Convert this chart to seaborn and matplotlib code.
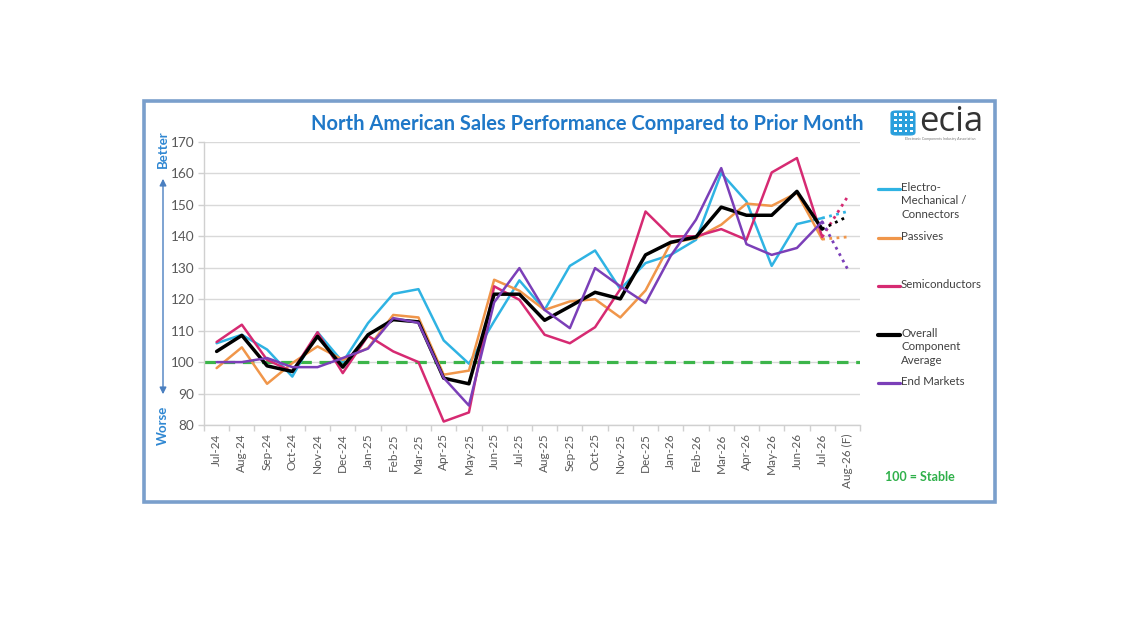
import numpy as np
import pandas as pd
import matplotlib
matplotlib.use("Agg")
import matplotlib.pyplot as plt
import seaborn as sns
from matplotlib.lines import Line2D
from matplotlib.patches import Rectangle, FancyBboxPatch, FancyArrowPatch

# ---------------- data ----------------
categories = ['Jul-24', 'Aug-24', 'Sep-24', 'Oct-24', 'Nov-24', 'Dec-24', 'Jan-25', 'Feb-25',
              'Mar-25', 'Apr-25', 'May-25', 'Jun-25', 'Jul-25', 'Aug-25', 'Sep-25', 'Oct-25',
              'Nov-25', 'Dec-25', 'Jan-26', 'Feb-26', 'Mar-26', 'Apr-26', 'May-26', 'Jun-26',
              'Jul-26', 'Aug-26 (F)']

electro = [106, 108.7, 104, 95.4, 109.5, 100, 112.4, 121.7, 123.2, 106.9, 99.5, 113,
           126, 116.6, 130.6, 135.5, 123.2, 131.5, 134.1, 138.9, 160.1, 151.1, 130.6, 143.9,
           145.8, 147.9]
passives = [98.1, 104.7, 93.1, 99.7, 105, 100.7, 104.5, 115, 114.2, 96, 97.3, 126.2,
            122.7, 116.6, 119.3, 120, 114.2, 122.8, 137.9, 139.4, 143.7, 150.4, 149.7, 153.8,
            139.1, 139.8]
semis = [106.4, 111.9, 100.7, 97, 109.5, 96.5, 108.4, 103.4, 100, 81.1, 84, 124.1,
         119.8, 108.7, 106, 111.1, 123.2, 147.9, 140, 140, 142.3, 138.9, 160.3, 164.9,
         139.8, 152.5]
overall = [103.4, 108.5, 98.8, 97, 108.2, 98.4, 108.7, 113.5, 112.8, 94.9, 93.1, 121.6,
           121.6, 113.3, 117.7, 122.2, 120.1, 134.1, 138.1, 139.8, 149.3, 146.7, 146.7, 154.3,
           142.3, 146.3]
end_markets = [100, 100, 101.3, 98.4, 98.4, 101.3, 104.3, 114, 112.5, 95, 86.2, 119,
               129.9, 116.6, 110.8, 129.9, 124.1, 118.8, 133.8, 145.3, 161.7, 137.5, 134.1, 136.3,
               144.7, 129.7]

series_names = ['Electro-\nMechanical /\nConnectors', 'Passives', 'Semiconductors',
                'Overall\nComponent\nAverage', 'End Markets']
series_values = [electro, passives, semis, overall, end_markets]
series_colors = ['#2fb3e3', '#f0964a', '#d62a72', '#000000', '#7b3fb8']
series_widths = [1.8, 1.8, 1.8, 2.5, 1.8]
y_ticks = [80, 90, 100, 110, 120, 130, 140, 150, 160, 170]
stable_level = 100

# ---------------- figure ----------------
sns.set_theme(style="white")
plt.rcParams['font.family'] = ['Lato', 'DejaVu Sans']

W, H = 1140, 641
fig = plt.figure(figsize=(W / 100, H / 100), dpi=100)
fig.patch.set_facecolor('white')

def fx(px):
    return px / W

def fy(py):
    return 1 - py / H

# outer frame
fig.add_artist(Rectangle((fx(144), fy(502)), fx(995) - fx(144), fy(101) - fy(502),
                         transform=fig.transFigure, fill=False, edgecolor='#7a9fcc',
                         linewidth=2.6, zorder=0))

ax = fig.add_axes([fx(204), fy(425), fx(860) - fx(204), fy(142) - fy(425)])
ax.set_facecolor('white')

n = len(categories)
xs = np.arange(n)
rows = []
for name, vals in zip(series_names, series_values):
    for i, (c, v) in enumerate(zip(categories, vals)):
        rows.append({'idx': i, 'cat': c, 'series': name, 'value': v})
df = pd.DataFrame(rows)

# green stable line
ax.axhline(stable_level, color='#3cb54a', linewidth=2.3, linestyle=(0, (3.6, 2.4)), zorder=2)

draw_order = [0, 1, 3, 2, 4]
for k in draw_order:
    name = series_names[k]
    sub = df[df['series'] == name]
    solid = sub[sub['idx'] <= n - 2]
    fc = sub[sub['idx'] >= n - 2]
    sns.lineplot(data=solid, x='idx', y='value', ax=ax, color=series_colors[k],
                 linewidth=series_widths[k], legend=False, zorder=3 + k, estimator=None,
                 sort=False)
    sns.lineplot(data=fc, x='idx', y='value', ax=ax, color=series_colors[k],
                 linewidth=2.0, linestyle=(0, (1, 1.6)), legend=False, zorder=3 + k,
                 estimator=None, sort=False)

ax.set_xlim(-0.5, n - 0.5)
ax.set_ylim(80, 170)
ax.set_yticks(y_ticks)
ax.set_yticklabels([str(t) for t in y_ticks])
ax.set_xticks(xs)
ax.set_xticklabels(categories, rotation=90)
ax.set_xticks(np.arange(-0.5, n, 1.0), minor=True)
ax.set_xlabel('')
ax.set_ylabel('')

ax.grid(axis='y', color='#d9d9d9', linewidth=1.0)
ax.grid(axis='x', visible=False)
ax.set_axisbelow(True)
for s in ['top', 'right']:
    ax.spines[s].set_visible(False)
ax.spines['left'].set_color('#d0d0d0')
ax.spines['bottom'].set_color('#d0d0d0')
ax.spines['left'].set_linewidth(1.0)
ax.spines['bottom'].set_linewidth(1.0)

ax.tick_params(axis='y', which='major', length=4, width=1, color='#d0d0d0', pad=3,
               labelsize=9.8, labelcolor='#595959', left=True)
ax.tick_params(axis='x', which='major', length=0, pad=6, labelsize=8.5, labelcolor='#595959')
ax.tick_params(axis='x', which='minor', length=4, width=1, color='#d0d0d0', bottom=True)

# title
fig.text(fx(587), fy(124), 'North American Sales Performance Compared to Prior Month',
         ha='center', va='center', fontsize=14.5, fontweight='bold', color='#1f78c8')

# better / worse
blue_txt = '#2f87d2'
fig.text(fx(163), fy(149), 'Better', rotation=90, ha='center', va='center',
         fontsize=9.5, fontweight='bold', color=blue_txt)
fig.text(fx(163), fy(425), 'Worse', rotation=90, ha='center', va='center',
         fontsize=9.5, fontweight='bold', color=blue_txt)
fig.add_artist(FancyArrowPatch((fx(163), fy(176)), (fx(163), fy(397)),
                               transform=fig.transFigure, arrowstyle='<|-|>,head_length=4,head_width=2',
                               color='#4a7fc0', linewidth=1.0, mutation_scale=1))

# legend (manual, Excel-like)
leg_items = [(0, 189), (1, 238), (2, 286), (3, 335), (4, 383)]
for k, py in leg_items:
    fig.add_artist(Line2D([fx(878), fx(900)], [fy(py), fy(py)], transform=fig.transFigure,
                          color=series_colors[k], linewidth=series_widths[k] + 0.5))
    fig.text(fx(901), fy(py - 7.0), series_names[k], ha='left', va='top', fontsize=8.3,
             color='#404040', linespacing=1.25)

fig.text(fx(920), fy(477), '100 = Stable', ha='center', va='center', fontsize=9,
         fontweight='bold', color='#2fb04a')

# logo
fig.add_artist(FancyBboxPatch((fx(891), fy(135)), fx(915) - fx(891), fy(111) - fy(135),
                              boxstyle='round,pad=0,rounding_size=0.004', transform=fig.transFigure,
                              facecolor='#2a9fdc', edgecolor='#2a9fdc', linewidth=0.8))
for r in range(4):
    for c in range(4):
        fig.add_artist(Rectangle((fx(894 + c * 5.3), fy(115.5 + r * 5.5)), fx(2.6), fy(0) - fy(2.2),
                                 transform=fig.transFigure, facecolor='white', edgecolor='none'))
fig.text(fx(951), fy(122), 'ecia', ha='center', va='center', fontsize=25, color='#333333',
         family=['Open Sans', 'DejaVu Sans'])
fig.text(fx(940), fy(139), 'Electronic Components Industry Association', ha='center', va='center',
         fontsize=2.6, color='#777777')

fig.savefig('out.png', dpi=100, facecolor='white')
